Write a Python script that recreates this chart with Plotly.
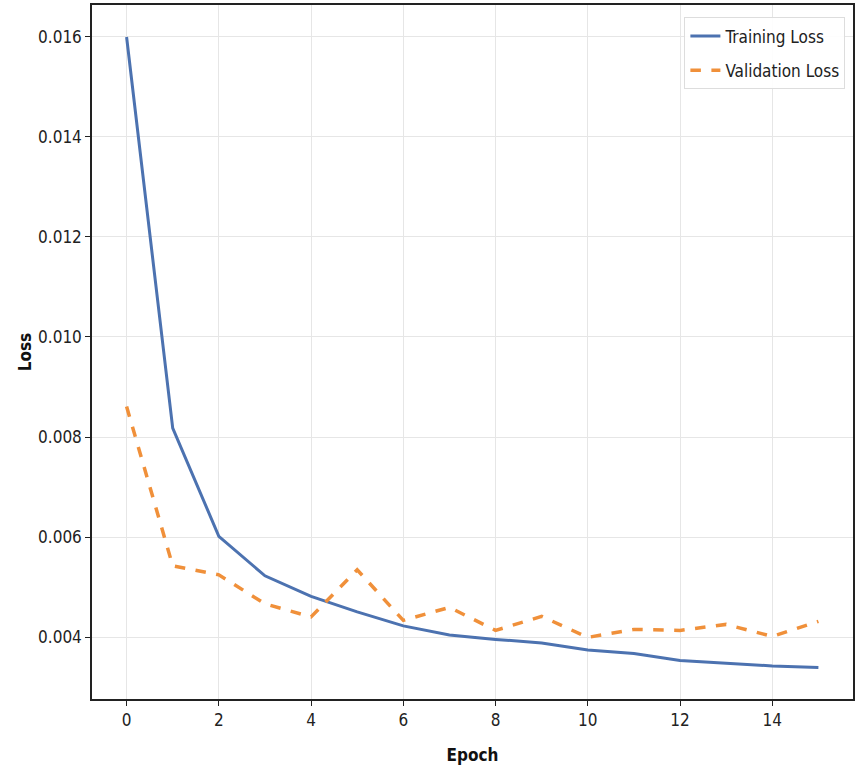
import plotly.graph_objects as go

epochs = list(range(16))
training_loss = [0.01599, 0.00818, 0.00602, 0.00523, 0.00482, 0.00451, 0.00423, 0.00405,
                 0.00396, 0.00389, 0.00375, 0.00368, 0.00354, 0.00348, 0.00343, 0.00340]
validation_loss = [0.00861, 0.00543, 0.00525, 0.00467, 0.00441, 0.00535, 0.00434, 0.00460,
                   0.00414, 0.00442, 0.00400, 0.00416, 0.00414, 0.00426, 0.00402, 0.00432]
x_ticks = [0, 2, 4, 6, 8, 10, 12, 14]
y_ticks = [0.004, 0.006, 0.008, 0.010, 0.012, 0.014, 0.016]
y_tick_labels = ["0.004", "0.006", "0.008", "0.010", "0.012", "0.014", "0.016"]

FONT = "DejaVu Sans Condensed, DejaVu Sans, sans-serif"

fig = go.Figure()
fig.add_trace(go.Scatter(x=epochs, y=training_loss, mode="lines", name="Training Loss",
                         legendgroup="train",
                         line=dict(color="#4c72b0", width=3)))
fig.add_trace(go.Scatter(x=epochs, y=validation_loss, mode="lines", name="Validation Loss",
                         legendgroup="val",
                         line=dict(color="#f0903a", width=3.5, dash="dash")))

axis_common = dict(showline=True, linecolor="#222222", linewidth=1.5, mirror=True,
                   showgrid=True, gridcolor="#e6e6e6", gridwidth=1,
                   ticks="outside", ticklen=5, tickcolor="#222222", tickwidth=1.2,
                   zeroline=False, tickfont=dict(family=FONT, size=17, color="#222222"))

fig.update_xaxes(range=[-0.75, 15.75], tickvals=x_ticks,
                 title=dict(text="<b>Epoch</b>", font=dict(family=FONT, size=17, color="#111111"), standoff=20),
                 **axis_common)
fig.update_yaxes(range=[0.00277, 0.01663], tickvals=y_ticks, ticktext=y_tick_labels,
                 title=dict(text="<b>Loss</b>", font=dict(family=FONT, size=17, color="#111111"), standoff=2),
                 **axis_common)

fig.update_layout(
    width=859, height=781,
    margin=dict(l=92, r=6, t=5, b=82, autoexpand=False),
    paper_bgcolor="white", plot_bgcolor="white",
    font=dict(family=FONT, size=17, color="#222222"),
    legend=dict(x=0.99, y=0.982, xanchor="right", yanchor="top",
                bgcolor="rgba(255,255,255,0.9)", bordercolor="#dddddd", borderwidth=1,
                tracegroupgap=9,
                font=dict(family=FONT, size=17, color="#222222")),
    showlegend=True,
)

fig.write_html("out.html",
               config={"displayModeBar": False},
               post_script="document.body.style.margin='0';document.body.style.overflow='hidden';")
